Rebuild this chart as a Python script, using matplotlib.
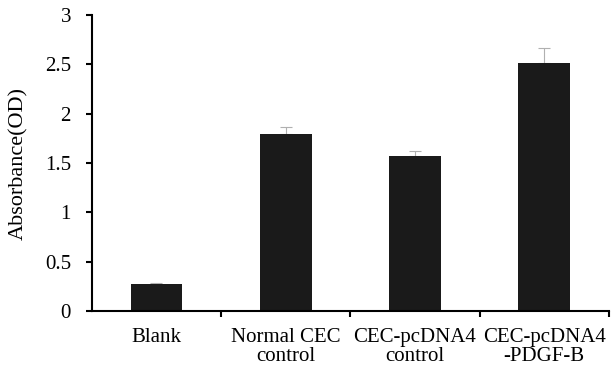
import numpy as np
import matplotlib.pyplot as plt

categories = ['Blank', 'Normal CEC\ncontrol', 'CEC-pcDNA4\ncontrol', 'CEC-pcDNA4\n-PDGF-B']
absorbance = [0.275, 1.79, 1.575, 2.51]
errors = [0.01, 0.075, 0.045, 0.16]

plt.rcParams['font.family'] = 'serif'
plt.rcParams['font.serif'] = ['Liberation Serif', 'DejaVu Serif']

fig = plt.figure(figsize=(6.12, 3.69), dpi=100)
ax = fig.add_axes([0.150, 0.157, 0.845, 0.802])

x = np.arange(len(categories))
ax.bar(x, absorbance, width=0.4, color='#1a1a1a', zorder=2,
       yerr=[np.zeros(len(errors)), errors],
       error_kw=dict(ecolor='#b0b0b0', elinewidth=0.8, capsize=4, capthick=0.8, zorder=1))

ax.set_xlim(-0.5, len(categories) - 0.5)
ax.set_ylim(0, 3)
ax.set_yticks([0, 0.5, 1, 1.5, 2, 2.5, 3])
ax.set_yticklabels(['0', '0.5', '1', '1.5', '2', '2.5', '3'])
ax.set_xticks(x)
ax.set_xticklabels(categories, linespacing=1.05)
ax.set_xticks(np.arange(0.5, len(categories)), minor=True)
ax.tick_params(axis='x', which='major', length=0, pad=12, labelsize=15)
ax.tick_params(axis='x', which='minor', length=4, width=1.5, direction='out')
ax.tick_params(axis='y', length=4, width=1.5, direction='out', labelsize=15, pad=11)
ax.set_ylabel('Absorbance(OD)', fontsize=16, labelpad=12)

for side in ['top', 'right']:
    ax.spines[side].set_visible(False)
for side in ['left', 'bottom']:
    ax.spines[side].set_linewidth(1.5)

fig.savefig('out.png', dpi=100)
